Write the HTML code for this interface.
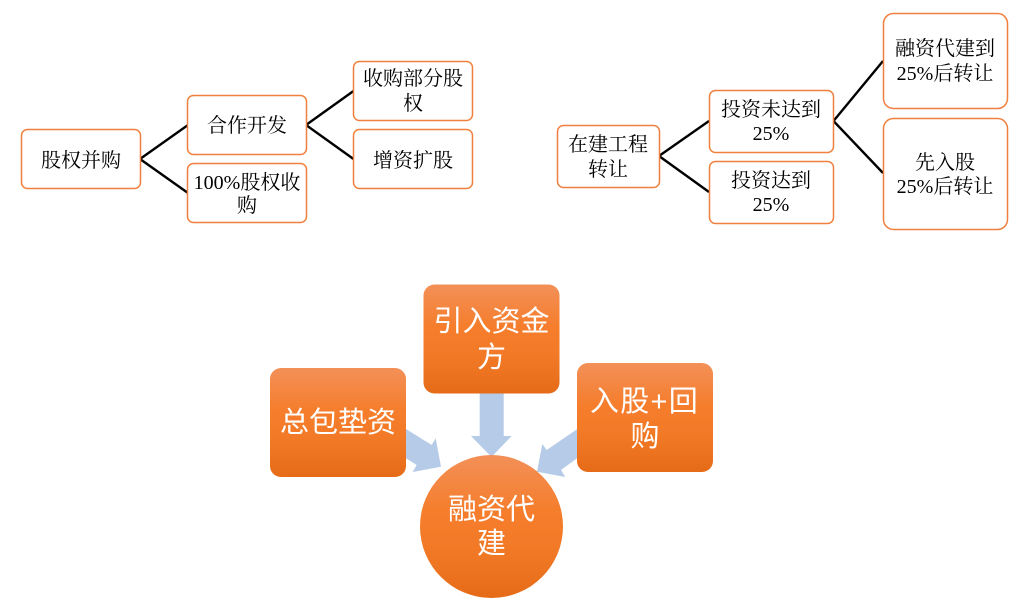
<!DOCTYPE html>
<html>
<head>
<meta charset="utf-8">
<style>
html,body{margin:0;padding:0;background:#fff;width:1030px;height:612px;overflow:hidden}
svg{display:block}
.s rect{fill:#fff;stroke:#f0803f;stroke-width:1.5}
.l line{stroke:#000;stroke-width:2.4}
.t text{font-family:"Liberation Serif","Noto Serif CJK SC",serif;font-size:20px;fill:#000;text-anchor:middle}
.w text{font-family:"Liberation Sans","Noto Sans CJK SC",sans-serif;font-size:29px;font-weight:400;fill:#fff;text-anchor:middle}
</style>
</head>
<body>
<svg width="1030" height="612" viewBox="0 0 1030 612" xmlns="http://www.w3.org/2000/svg">
<defs>
<linearGradient id="g" x1="0" y1="0" x2="0" y2="1">
<stop offset="0" stop-color="#f39058"/>
<stop offset="0.4" stop-color="#f57d2b"/>
<stop offset="0.65" stop-color="#f27a27"/>
<stop offset="1" stop-color="#e66b18"/>
</linearGradient>
</defs>

<g class="l">
<line x1="140" y1="159" x2="188" y2="125"/>
<line x1="140" y1="159" x2="188" y2="193"/>
<line x1="306" y1="125" x2="353.5" y2="91"/>
<line x1="306" y1="125" x2="353.5" y2="159"/>
<line x1="659" y1="156" x2="709" y2="121"/>
<line x1="659" y1="156" x2="709" y2="192"/>
<line x1="833.5" y1="121" x2="883" y2="61"/>
<line x1="833.5" y1="121" x2="883" y2="173"/>
</g>

<g class="s">
<rect x="21.5" y="129.5" width="119" height="59" rx="6"/>
<rect x="187.5" y="95.5" width="119" height="59" rx="6"/>
<rect x="187.5" y="163.5" width="119" height="59" rx="6"/>
<rect x="353.5" y="61.5" width="119" height="59" rx="6"/>
<rect x="353.5" y="129.5" width="119" height="59" rx="6"/>
<rect x="557.5" y="125.5" width="102" height="62" rx="6"/>
<rect x="709.5" y="90.5" width="124" height="62" rx="6"/>
<rect x="709.5" y="161.5" width="124" height="62" rx="6"/>
<rect x="883.5" y="13.5" width="124" height="95" rx="10"/>
<rect x="883.5" y="118.5" width="124" height="111" rx="10"/>
</g>

<g class="t">
<text x="81" y="167">股权并购</text>
<text x="247" y="132">合作开发</text>
<text x="247" y="189">100%股权收</text>
<text x="247" y="212">购</text>
<text x="413" y="85">收购部分股</text>
<text x="413" y="110">权</text>
<text x="413" y="167">增资扩股</text>
<text x="608" y="151">在建工程</text>
<text x="608" y="176">转让</text>
<text x="771" y="116">投资未达到</text>
<text x="771" y="140">25%</text>
<text x="771" y="187">投资达到</text>
<text x="771" y="211">25%</text>
<text x="945" y="55">融资代建到</text>
<text x="945" y="80">25%后转让</text>
<text x="945" y="169">先入股</text>
<text x="945" y="193">25%后转让</text>
</g>

<g fill="#b5cbe8">
<polygon points="406,429 431.7,445 435.7,438.3 441,466.7 412.7,472 416.7,465 406,458.3"/>
<polygon points="479.7,393 503.7,393 503.7,436 511.7,436 491.5,457 471,436 479.7,436"/>
<polygon points="577,429.3 546.7,450 542.3,444 537,471.7 565.3,477 561,470 577,458.3"/>
</g>

<rect x="270" y="368" width="136" height="109" rx="11" fill="url(#g)"/>
<rect x="423.500" y="284.500" width="136" height="109" rx="11" fill="url(#g)"/>
<rect x="577" y="363" width="136" height="109" rx="11" fill="url(#g)"/>
<circle cx="491.500" cy="526.500" r="71.500" fill="url(#g)"/>

<g class="w">
<text x="338" y="432">总包垫资</text>
<text x="491.500" y="331">引入资金</text>
<text x="491.500" y="367">方</text>
<text x="644.500" y="411" style="letter-spacing:1.300px">入股+回</text>
<text x="645" y="446">购</text>
<text x="491.500" y="519">融资代</text>
<text x="491.500" y="553">建</text>
</g>
</svg>
</body>
</html>
